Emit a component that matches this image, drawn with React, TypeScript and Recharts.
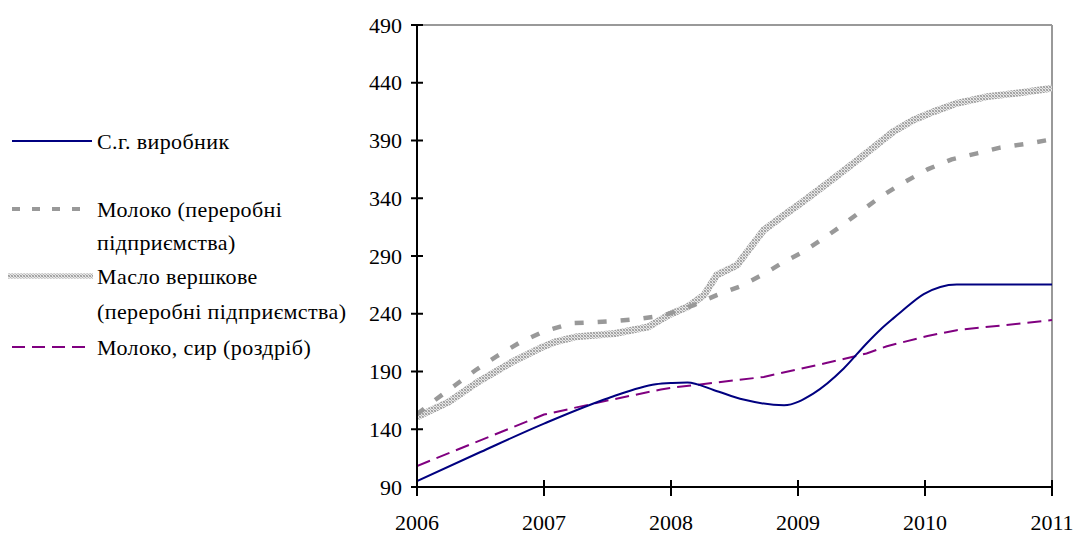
import React from "react";
import { LineChart, Line, XAxis, YAxis, ReferenceLine } from "recharts";

const years = [2006, 2007, 2008, 2009, 2010, 2011];
const yTicks = [90, 140, 190, 240, 290, 340, 390, 440, 490];

const producer = [
  { x: 2006.0, v: 95.2 }, { x: 2006.5, v: 120.3 }, { x: 2007.0, v: 144.9 },
  { x: 2007.51, v: 167.1 }, { x: 2007.88, v: 179.0 }, { x: 2008.01, v: 180.1 },
  { x: 2008.13, v: 180.5 }, { x: 2008.34, v: 173.8 }, { x: 2008.57, v: 165.7 },
  { x: 2008.89, v: 160.8 }, { x: 2009.12, v: 170.9 }, { x: 2009.36, v: 192.6 },
  { x: 2009.54, v: 214.3 }, { x: 2009.65, v: 226.4 }, { x: 2009.75, v: 236.0 },
  { x: 2009.81, v: 241.5 }, { x: 2009.99, v: 257.0 }, { x: 2010.25, v: 265.4 },
  { x: 2011.0, v: 265.4 },
];

const milkProc = [
  { x: 2006.0, v: 153 }, { x: 2006.14, v: 165.1 }, { x: 2006.3, v: 178.1 },
  { x: 2006.46, v: 191.1 }, { x: 2006.62, v: 202.7 }, { x: 2006.8, v: 214.5 },
  { x: 2006.99, v: 224.3 }, { x: 2007.22, v: 231.9 }, { x: 2007.4, v: 232.7 },
  { x: 2007.58, v: 233.8 }, { x: 2007.77, v: 235.9 }, { x: 2007.95, v: 238.8 },
  { x: 2008.18, v: 247.5 }, { x: 2008.36, v: 256.1 }, { x: 2008.55, v: 263.9 },
  { x: 2008.73, v: 274.3 }, { x: 2008.89, v: 285.0 }, { x: 2009.02, v: 292.3 },
  { x: 2009.19, v: 304.4 }, { x: 2009.35, v: 316.8 }, { x: 2009.49, v: 328.3 },
  { x: 2009.65, v: 341.3 }, { x: 2009.82, v: 352.9 }, { x: 2010.02, v: 365.0 },
  { x: 2010.21, v: 373.7 }, { x: 2010.41, v: 378.9 }, { x: 2010.59, v: 383.8 },
  { x: 2010.79, v: 387.0 }, { x: 2011.0, v: 391.0 },
];

const butter = [
  { x: 2006.0, v: 150.7 }, { x: 2006.25, v: 163.7 }, { x: 2006.48, v: 181.0 },
  { x: 2006.75, v: 198.3 }, { x: 2006.99, v: 211.3 }, { x: 2007.09, v: 215.7 },
  { x: 2007.25, v: 220.0 }, { x: 2007.56, v: 222.9 }, { x: 2007.82, v: 228.6 },
  { x: 2007.98, v: 238.8 }, { x: 2008.13, v: 246.0 }, { x: 2008.26, v: 256.1 },
  { x: 2008.36, v: 273.5 }, { x: 2008.52, v: 282.1 }, { x: 2008.73, v: 312.4 },
  { x: 2008.89, v: 325.4 }, { x: 2009.02, v: 335.6 }, { x: 2009.23, v: 352.9 },
  { x: 2009.49, v: 374.8 }, { x: 2009.65, v: 389.0 }, { x: 2009.75, v: 397.6 },
  { x: 2009.91, v: 407.8 }, { x: 2010.07, v: 415.0 }, { x: 2010.25, v: 422.2 },
  { x: 2010.49, v: 428.0 }, { x: 2010.75, v: 431.4 }, { x: 2011.0, v: 435.2 },
];

const retail = [
  { x: 2006.0, v: 108.2 }, { x: 2007.0, v: 152.7 }, { x: 2007.51, v: 165.1 },
  { x: 2007.92, v: 174.4 }, { x: 2008.01, v: 176.1 }, { x: 2008.18, v: 178.1 },
  { x: 2008.73, v: 185.3 }, { x: 2009.23, v: 197.5 }, { x: 2009.54, v: 205.6 },
  { x: 2009.7, v: 211.9 }, { x: 2010.02, v: 220.8 }, { x: 2010.25, v: 225.8 },
  { x: 2011.0, v: 234.5 },
];

const FONT = "Liberation Serif, Times New Roman, serif";
const FS = 22;
const txt: React.CSSProperties = { fontFamily: FONT, fontSize: FS };
const legTxt: React.CSSProperties = { fontFamily: FONT, fontSize: FS, letterSpacing: 0.4 };

const YTick = (props: any) => {
  const { x, y, payload } = props;
  return (
    <g>
      <line x1={x - 6} x2={x + 6} y1={y} y2={y} stroke="#000" strokeWidth={2} />
      <text x={x - 15} y={y} dy="0.35em" textAnchor="end" style={txt} fill="#000">
        {payload.value}
      </text>
    </g>
  );
};

const XTick = (props: any) => {
  const { x, y, payload } = props;
  return (
    <g>
      <line x1={x} x2={x} y1={y - 7} y2={y + 9} stroke="#000" strokeWidth={2} />
      <text x={x} y={y + 35} dy="0.35em" textAnchor="middle" style={txt} fill="#000">
        {payload.value}
      </text>
    </g>
  );
};

const Legend = () => (
  <svg width={400} height={400} style={{ position: "absolute", left: 0, top: 0 }}>
    <line x1={12} x2={92} y1={141} y2={141} stroke="#000080" strokeWidth={2} />
    <text x={97} y={141} dy="0.35em" style={legTxt}>С.г. виробник</text>

    <line x1={12} x2={92} y1={209} y2={209} stroke="#999999" strokeWidth={4} strokeDasharray="8 12" />
    <text x={97} y={209} dy="0.35em" style={legTxt}>Молоко (переробні</text>
    <text x={97} y={242} dy="0.35em" style={legTxt}>підприємства)</text>

    <line x1={8} x2={93} y1={276} y2={276} stroke="url(#hatch)" strokeWidth={5} />
    <text x={97} y={276} dy="0.35em" style={legTxt}>Масло вершкове</text>
    <text x={97} y={311} dy="0.35em" style={legTxt}>(переробні підприємства)</text>

    <line x1={12} x2={92} y1={347} y2={347} stroke="#800080" strokeWidth={2} strokeDasharray="13 7" />
    <text x={97} y={347} dy="0.35em" style={legTxt}>Молоко, сир (роздріб)</text>
  </svg>
);

export default function App() {
  return (
    <div style={{ position: "absolute", left: 0, top: 0, width: 1073, height: 536, background: "#fff" }}>
      <svg width={0} height={0} style={{ position: "absolute" }}>
        <defs>
          <pattern id="hatch" width={3} height={3} patternUnits="userSpaceOnUse">
            <rect x={0} y={0} width={3} height={3} fill="#e6e6e6" />
            <rect x={0} y={0} width={1} height={1} fill="#9c9c9c" />
            <rect x={1} y={1} width={1} height={1} fill="#b4b4b4" />
            <rect x={2} y={2} width={1} height={1} fill="#9c9c9c" />
            <rect x={2} y={0} width={1} height={1} fill="#b4b4b4" />
            <rect x={0} y={2} width={1} height={1} fill="#b4b4b4" />
          </pattern>
        </defs>
      </svg>
      <LineChart width={1073} height={536} margin={{ top: 25, right: 21, left: 0, bottom: 0 }}>
        <XAxis
          type="number"
          dataKey="x"
          domain={[2006, 2011]}
          ticks={years}
          allowDataOverflow
          height={49}
          tick={<XTick />}
          tickLine={false}
          tickSize={0}
          tickMargin={0}
          axisLine={{ stroke: "#000", strokeWidth: 2 }}
        />
        <YAxis
          type="number"
          dataKey="v"
          domain={[90, 490]}
          ticks={yTicks}
          allowDataOverflow
          width={417}
          tick={<YTick />}
          tickLine={false}
          tickSize={0}
          tickMargin={0}
          axisLine={{ stroke: "#000", strokeWidth: 2 }}
        />
        <ReferenceLine y={490} stroke="#999999" strokeWidth={2} />
        <ReferenceLine x={2011} stroke="#999999" strokeWidth={2} />
        <Line data={butter} dataKey="v" type="linear" stroke="url(#hatch)" strokeWidth={7} dot={false} isAnimationActive={false} />
        <Line data={milkProc} dataKey="v" type="linear" stroke="#999999" strokeWidth={4.5} strokeDasharray="9 14" dot={false} isAnimationActive={false} />
        <Line data={retail} dataKey="v" type="linear" stroke="#800080" strokeWidth={2} strokeDasharray="14 7" dot={false} isAnimationActive={false} />
        <Line data={producer} dataKey="v" type="monotone" stroke="#000080" strokeWidth={2} dot={false} isAnimationActive={false} />
      </LineChart>
      <Legend />
    </div>
  );
}
